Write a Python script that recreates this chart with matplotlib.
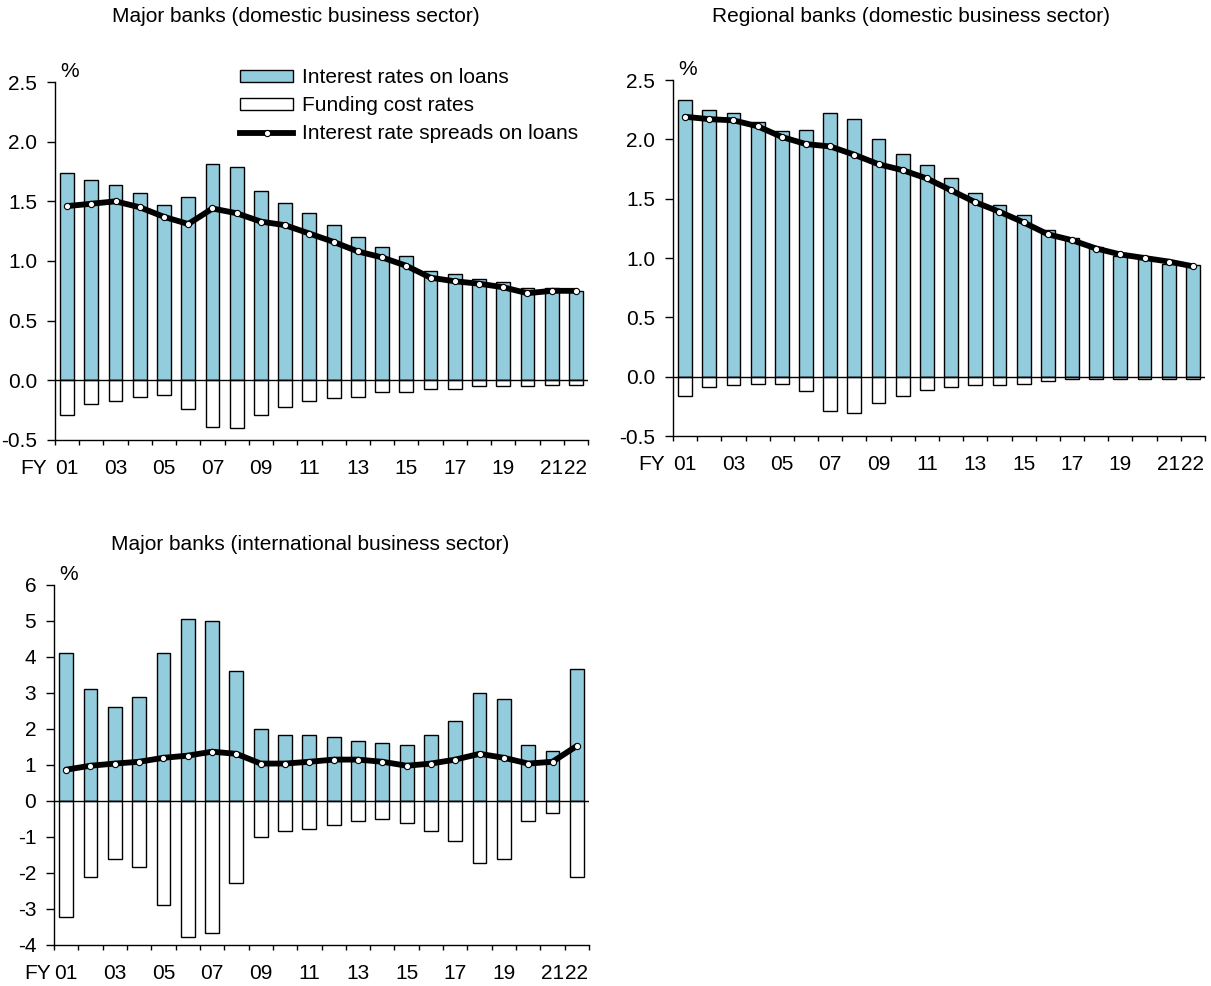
import matplotlib
matplotlib.use("Agg")
import matplotlib.pyplot as plt
import numpy as np
from matplotlib.lines import Line2D
from matplotlib.patches import Patch
import matplotlib.transforms as mtransforms

plt.rcParams['font.family'] = ['Liberation Sans', 'DejaVu Sans']

# ---------------- data ----------------
years = ['01', '02', '03', '04', '05', '06', '07', '08', '09', '10', '11',
         '12', '13', '14', '15', '16', '17', '18', '19', '20', '21', '22']
year_labels = ['01', '', '03', '', '05', '', '07', '', '09', '', '11',
               '', '13', '', '15', '', '17', '', '19', '', '21', '22']

major_dom_loans = [1.74, 1.68, 1.64, 1.57, 1.47, 1.54, 1.81, 1.79, 1.59, 1.49, 1.40,
                   1.30, 1.20, 1.12, 1.04, 0.92, 0.89, 0.85, 0.82, 0.77, 0.77, 0.75]
major_dom_funding = [-0.29, -0.20, -0.17, -0.14, -0.12, -0.24, -0.39, -0.40, -0.29, -0.22, -0.17,
                     -0.15, -0.14, -0.10, -0.10, -0.07, -0.07, -0.05, -0.05, -0.05, -0.04, -0.04]
major_dom_spread = [1.46, 1.48, 1.50, 1.45, 1.37, 1.31, 1.44, 1.40, 1.33, 1.30, 1.23,
                    1.16, 1.08, 1.03, 0.96, 0.86, 0.83, 0.81, 0.78, 0.73, 0.75, 0.75]

regional_loans = [2.33, 2.25, 2.22, 2.15, 2.07, 2.08, 2.22, 2.17, 2.00, 1.88, 1.78,
                  1.67, 1.55, 1.45, 1.36, 1.24, 1.17, 1.09, 1.02, 0.99, 0.95, 0.94]
regional_funding = [-0.16, -0.09, -0.07, -0.06, -0.06, -0.12, -0.29, -0.31, -0.22, -0.16, -0.11,
                    -0.09, -0.07, -0.07, -0.06, -0.04, -0.02, -0.02, -0.02, -0.02, -0.02, -0.02]
regional_spread = [2.19, 2.17, 2.16, 2.11, 2.02, 1.96, 1.94, 1.87, 1.79, 1.74, 1.67,
                   1.57, 1.47, 1.39, 1.30, 1.20, 1.15, 1.08, 1.03, 1.00, 0.97, 0.93]

major_int_loans = [4.11, 3.11, 2.61, 2.89, 4.11, 5.06, 4.99, 3.61, 1.99, 1.84, 1.84,
                   1.78, 1.67, 1.61, 1.56, 1.84, 2.22, 3.00, 2.83, 1.56, 1.39, 3.67]
major_int_funding = [-3.23, -2.11, -1.62, -1.83, -2.89, -3.78, -3.67, -2.28, -1.00, -0.84, -0.78,
                     -0.68, -0.56, -0.50, -0.61, -0.84, -1.11, -1.72, -1.62, -0.56, -0.34, -2.11]
major_int_spread = [0.87, 0.98, 1.04, 1.09, 1.20, 1.26, 1.37, 1.31, 1.04, 1.04, 1.09,
                    1.15, 1.15, 1.09, 0.98, 1.04, 1.15, 1.31, 1.20, 1.04, 1.09, 1.53]

dom_yticks = [-0.5, 0.0, 0.5, 1.0, 1.5, 2.0, 2.5]
dom_yticklabels = ['-0.5', '0.0', '0.5', '1.0', '1.5', '2.0', '2.5']
int_yticks = [-4, -3, -2, -1, 0, 1, 2, 3, 4, 5, 6]
int_yticklabels = ['-4', '-3', '-2', '-1', '0', '1', '2', '3', '4', '5', '6']

titles = ['Major banks (domestic business sector)',
          'Regional banks (domestic business sector)',
          'Major banks (international business sector)']
legend_labels = ['Interest rates on loans', 'Funding cost rates',
                 'Interest rate spreads on loans']

# ---------------- style ----------------
W, H = 1211, 986
BAR_COLOR = '#93CDDD'
FS = 15
LW = 4.2

fig = plt.figure(figsize=(W / 100, H / 100), dpi=100)


def px_rect(left, top, right, bottom):
    return [left / W, 1 - bottom / H, (right - left) / W, (bottom - top) / H]


def draw_panel(rect, loans, funding, spread, yticks, yticklabels, fy_label, fy_dx):
    ax = fig.add_axes(rect)
    x = np.arange(len(years))
    ax.bar(x, loans, width=0.57, color=BAR_COLOR, edgecolor='black', linewidth=1.0, zorder=2)
    ax.bar(x, funding, width=0.57, color='white', edgecolor='black', linewidth=1.0, zorder=2)
    ax.axhline(0, color='black', linewidth=1.0, zorder=3)
    ax.plot(x, spread, color='black', linewidth=LW, marker='o', markersize=4.5,
            markerfacecolor='white', markeredgecolor='black', markeredgewidth=0.8,
            zorder=4, solid_joinstyle='round', solid_capstyle='round')
    ax.set_xlim(-0.5, len(years) - 0.5)
    ax.set_ylim(yticks[0], yticks[-1])
    ax.set_yticks(yticks)
    ax.set_yticklabels(yticklabels)
    ax.set_xticks(np.arange(len(years) + 1) - 0.5)
    ax.set_xticklabels([])
    ax.set_xticks(x, minor=True)
    ax.set_xticklabels(year_labels, minor=True)
    for s in ['top', 'right']:
        ax.spines[s].set_visible(False)
    for s in ['left', 'bottom']:
        ax.spines[s].set_linewidth(1.0)
    ax.tick_params(axis='y', direction='out', length=5.8, width=1.0, pad=7, labelsize=FS)
    ax.tick_params(axis='x', which='major', direction='out', length=3.6, width=1.0)
    ax.tick_params(axis='x', which='minor', length=0, pad=14, labelsize=FS)
    # FY prefix
    trans = mtransforms.offset_copy(ax.transAxes, fig=fig, x=fy_dx, y=-14, units='points')
    ax.text(0, 0, fy_label, transform=trans, ha='right', va='top', fontsize=FS)
    # percent sign
    trans2 = mtransforms.offset_copy(ax.transAxes, fig=fig, x=4, y=1, units='points')
    ax.text(0, 1, '%', transform=trans2, ha='left', va='bottom', fontsize=FS)
    return ax


ax1 = draw_panel(px_rect(55, 82, 588, 440), major_dom_loans, major_dom_funding,
                 major_dom_spread, dom_yticks, dom_yticklabels, 'FY', -6)
ax2 = draw_panel(px_rect(673, 80, 1205, 436), regional_loans, regional_funding,
                 regional_spread, dom_yticks, dom_yticklabels, 'FY', -6)
ax3 = draw_panel(px_rect(54, 585, 589, 945), major_int_loans, major_int_funding,
                 major_int_spread, int_yticks, int_yticklabels, 'FY', -2)

fig.text(296 / W, 1 - 16 / H, titles[0], ha='center', va='center', fontsize=FS)
fig.text(911 / W, 1 - 16 / H, titles[1], ha='center', va='center', fontsize=FS)
fig.text(310 / W, 1 - 545 / H, titles[2], ha='center', va='center', fontsize=FS)

handles = [
    Patch(facecolor=BAR_COLOR, edgecolor='black', linewidth=1.0),
    Patch(facecolor='white', edgecolor='black', linewidth=1.0),
    Line2D([0], [0], color='black', linewidth=LW, marker='o', markersize=4.5,
           markerfacecolor='white', markeredgecolor='black', markeredgewidth=0.8),
]
fig.legend(handles, legend_labels, loc='upper left',
           bbox_to_anchor=(240 / W, 1 - 68 / H), frameon=False, fontsize=FS,
           handlelength=2.55, handleheight=0.5, handletextpad=0.45,
           labelspacing=0.44, borderpad=0, borderaxespad=0, numpoints=1)

fig.savefig('out.png', dpi=100)
